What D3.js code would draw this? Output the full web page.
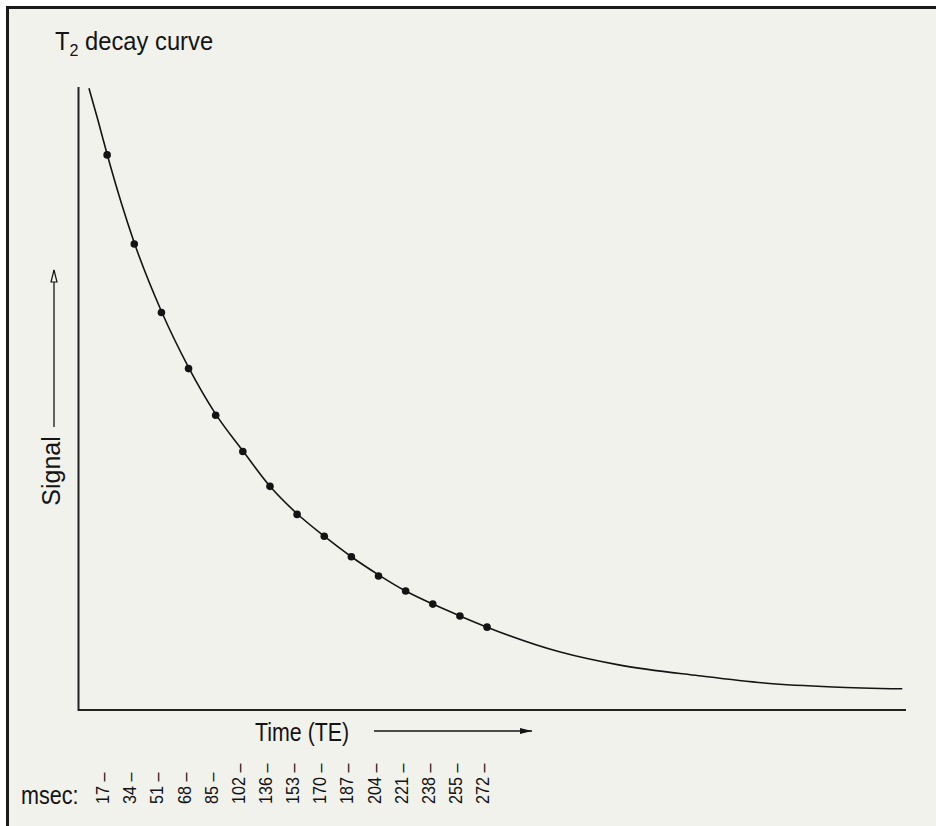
<!DOCTYPE html>
<html>
<head>
<meta charset="utf-8">
<script src="https://cdn.jsdelivr.net/npm/d3@7"></script>
<style>
    body { margin: 0; background: #fff; }
    text { font-family: "Liberation Sans", Arial, sans-serif; fill: #141414; }
</style>
</head>
<body>
<div id="chart"></div>
<script>
// echo number (evenly spaced on the time axis) and measured signal
var echoIndex = [1, 2, 3, 4, 5, 6, 7, 8, 9, 10, 11, 12, 13, 14, 15];
var teLabels = ["17", "34", "51", "68", "85", "102", "136", "153", "170", "187", "204", "221", "238", "255", "272"];
var signal = [89.1, 74.8, 63.8, 54.8, 47.3, 41.5, 35.9, 31.4, 27.9, 24.6, 21.5, 19.1, 17.0, 15.1, 13.3];

// fitted decay curve
var curveEcho = [0.33, 0.66, 1, 1.5, 2, 3, 4, 5, 6, 7, 8, 9, 10, 11, 12, 13, 14, 15, 17.7, 19.9, 22.8, 25.3, 27.75, 30.3];
var curveSignal = [99.8, 94.7, 89.2, 81.7, 75.0, 64.0, 55.0, 47.5, 41.6, 35.9, 31.5, 27.9, 24.6, 21.7, 19.1, 17.0, 15.1, 13.3, 9.3, 7.2, 5.5, 4.3, 3.7, 3.4];

var width = 936,
    height = 826,
    bg = "#f2f2ed",
    ink = "#141414";

var svg = d3.select("#chart")
    .append("svg")
    .attr("width", width)
    .attr("height", height);

var defs = svg.append("defs");
defs.append("marker")
    .attr("id", "arrow-filled")
    .attr("viewBox", "0 0 12 8")
    .attr("refX", 12).attr("refY", 4)
    .attr("markerWidth", 12).attr("markerHeight", 8)
    .attr("markerUnits", "userSpaceOnUse")
    .attr("orient", "auto")
    .append("path")
    .attr("d", "M0,1 L12,4 L0,7 Z")
    .attr("fill", ink);
defs.append("marker")
    .attr("id", "arrow-open")
    .attr("viewBox", "-1 -1 14 10")
    .attr("refX", 12).attr("refY", 4)
    .attr("markerWidth", 14).attr("markerHeight", 10)
    .attr("markerUnits", "userSpaceOnUse")
    .attr("orient", "auto")
    .append("path")
    .attr("d", "M0,1 L12,4 L0,7 Z")
    .attr("fill", bg)
    .attr("stroke", ink)
    .attr("stroke-width", 1.2);

// frame (only top and left edges are visible)
svg.append("rect")
    .attr("x", 7.5).attr("y", 7.5)
    .attr("width", 1000).attr("height", 1000)
    .attr("fill", bg)
    .attr("stroke", "#1a1a1a")
    .attr("stroke-width", 3);

var xScale = d3.scaleLinear()
    .domain([0, 30.4])
    .range([80, 905]);

var yScale = d3.scaleLinear()
    .domain([0, 100])
    .range([710, 87]);

// axes
svg.append("path")
    .attr("d", "M" + (xScale.range()[0] - 1.5) + "," + yScale.range()[1] +
        "V" + yScale(0) + "H" + (xScale.range()[1] + 1))
    .attr("fill", "none")
    .attr("stroke", "#222")
    .attr("stroke-width", 2);

// curve
var line = d3.line()
    .x(function (d) { return xScale(d[0]); })
    .y(function (d) { return yScale(d[1]); })
    .curve(d3.curveMonotoneX);

svg.append("path")
    .datum(d3.zip(curveEcho, curveSignal))
    .attr("d", line)
    .attr("fill", "none")
    .attr("stroke", ink)
    .attr("stroke-width", 1.6);

// measured points
svg.append("g")
    .selectAll("circle")
    .data(d3.zip(echoIndex, signal))
    .enter()
    .append("circle")
    .attr("cx", function (d) { return xScale(d[0]); })
    .attr("cy", function (d) { return yScale(d[1]); })
    .attr("r", 3.8)
    .attr("fill", ink);

// title
var title = svg.append("text")
    .attr("transform", "translate(55,50) scale(0.95,1)")
    .style("font-size", "25px");
title.append("tspan").text("T");
title.append("tspan").attr("dy", 6).style("font-size", "17px").text("2");
title.append("tspan").attr("dy", -6).text(" decay curve");

// y label + arrow
svg.append("text")
    .attr("transform", "translate(60,471) rotate(-90)")
    .attr("text-anchor", "middle")
    .style("font-size", "25px")
    .text("Signal");
svg.append("line")
    .attr("x1", 54).attr("x2", 54)
    .attr("y1", 427).attr("y2", 270)
    .attr("stroke", ink)
    .attr("stroke-width", 1.3)
    .attr("marker-end", "url(#arrow-open)");

// x label + arrow
svg.append("text")
    .attr("transform", "translate(255,741) scale(0.855,1)")
    .style("font-size", "25px")
    .text("Time (TE)");
svg.append("line")
    .attr("x1", 374).attr("x2", 532)
    .attr("y1", 731).attr("y2", 731)
    .attr("stroke", ink)
    .attr("stroke-width", 1.3)
    .attr("marker-end", "url(#arrow-filled)");

// msec tick labels
svg.append("text")
    .attr("transform", "translate(21,804) scale(0.83,1)")
    .style("font-size", "26px")
    .text("msec:");

svg.append("g")
    .selectAll("text")
    .data(echoIndex)
    .enter()
    .append("text")
    .attr("transform", function (d) {
        return "translate(" + (xScale(d) + 2) + ",804) rotate(-90) scale(0.85,1)";
    })
    .style("font-size", "19px")
    .text(function (d, i) { return teLabels[i] + " \u2013"; });
</script>
</body>
</html>
